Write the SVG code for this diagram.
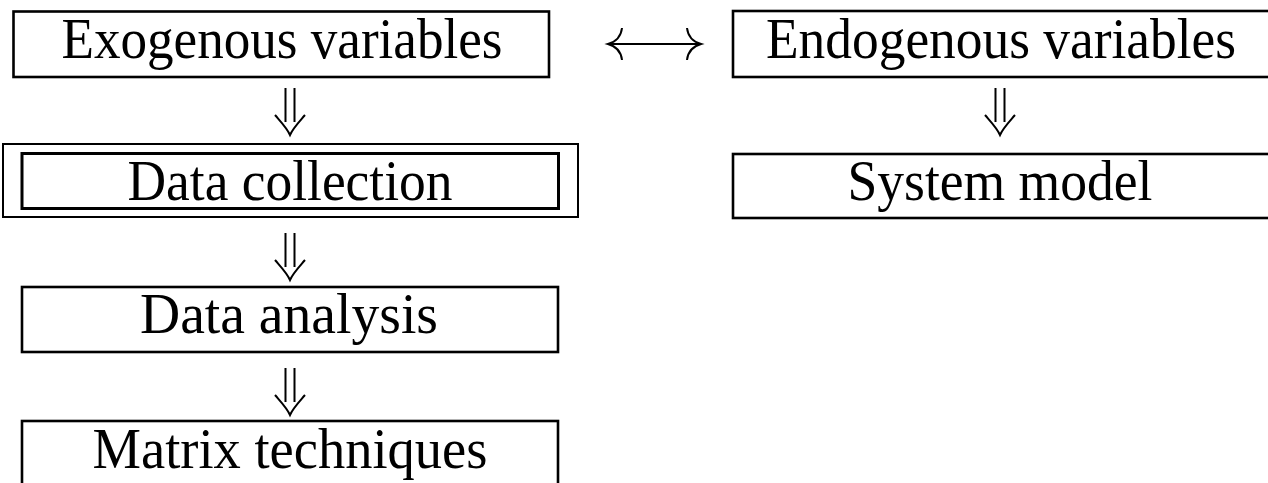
<svg xmlns="http://www.w3.org/2000/svg" width="1268" height="483" viewBox="0 0 1268 483">
<defs>
<style>
.box{fill:none;stroke:#000;stroke-width:2.6}
.thin{fill:none;stroke:#000;stroke-width:2}
.thick{fill:none;stroke:#000;stroke-width:3}
.lbl{font-family:"Liberation Serif","Times New Roman",serif;font-size:58px;fill:#000;text-anchor:middle}
.arr{fill:none;stroke:#000;stroke-width:2;stroke-linecap:butt}
</style>
<g id="dbl">
<path class="arr" d="M-4.5,0 V34 M4.5,0 V34"/>
<path class="arr" d="M-15,27 C-9,34 -3,40 0,47 C3,40 9,34 15,27"/>
</g>
</defs>
<rect width="1268" height="483" fill="#fff"/>
<g id="connectors">
<use href="#dbl" x="290" y="88"/>
<use href="#dbl" x="290" y="233"/>
<use href="#dbl" x="290" y="368"/>
<use href="#dbl" x="1000" y="88"/>
<path class="arr" d="M609,44 H700"/>
<path class="arr" d="M622,28 C621,37 615,42 608,44 C615,46 621,51 622,60"/>
<path class="arr" d="M687,28 C688,37 694,42 701,44 C694,46 688,51 687,60"/>
</g>
<g id="exogenous">
<rect class="box" x="13.5" y="11.5" width="535.5" height="65.5"/>
<text class="lbl" x="282" y="58" textLength="441" lengthAdjust="spacingAndGlyphs">Exogenous variables</text>
</g>
<g id="endogenous">
<rect class="box" x="733" y="11" width="537" height="66"/>
<text class="lbl" x="1001" y="58" textLength="470" lengthAdjust="spacingAndGlyphs">Endogenous variables</text>
</g>
<g id="data-collection">
<rect class="thin" x="3" y="144" width="575" height="73"/>
<rect class="thick" x="22" y="153.5" width="536.5" height="55"/>
<text class="lbl" x="290" y="200" textLength="325" lengthAdjust="spacingAndGlyphs">Data collection</text>
</g>
<g id="system-model">
<rect class="box" x="733" y="154" width="537" height="64"/>
<text class="lbl" x="1000" y="200" textLength="305" lengthAdjust="spacingAndGlyphs">System model</text>
</g>
<g id="data-analysis">
<rect class="box" x="22" y="287" width="536" height="65"/>
<text class="lbl" x="289" y="333" textLength="298" lengthAdjust="spacingAndGlyphs">Data analysis</text>
</g>
<g id="matrix-techniques">
<rect class="box" x="22" y="421" width="536" height="80"/>
<text class="lbl" x="290" y="468" textLength="395" lengthAdjust="spacingAndGlyphs">Matrix techniques</text>
</g>
</svg>
